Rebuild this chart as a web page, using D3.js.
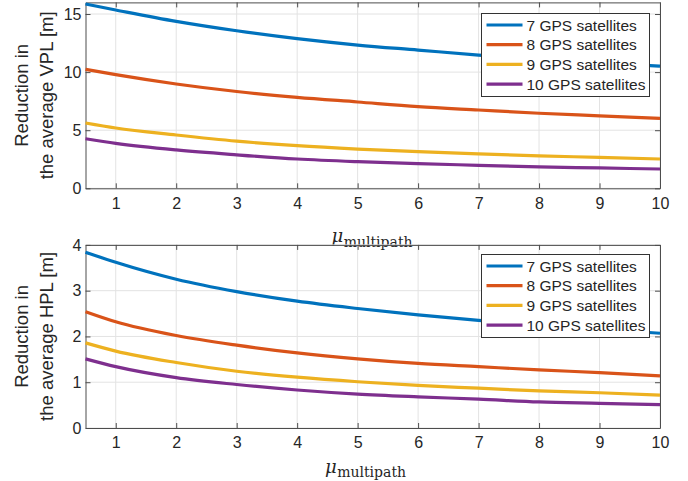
<!DOCTYPE html>
<html>
<head>
<meta charset="utf-8">
<script src="https://cdn.jsdelivr.net/npm/d3@7/dist/d3.min.js"></script>
<style>
  html, body { margin: 0; padding: 0; background: #fff; }
  svg { display: block; }
</style>
</head>
<body>
<svg id="chart" width="688" height="481"></svg>
<script>
// Multipath parameter (x axis, shared by both panels)
const mu = [0.5, 1, 2, 3, 4, 5, 6, 7, 8, 9, 10];
const seriesNames = ["7 GPS satellites", "8 GPS satellites", "9 GPS satellites", "10 GPS satellites"];
const xTicks = [1, 2, 3, 4, 5, 6, 7, 8, 9, 10];

// Reduction in the average VPL [m]
const vpl7  = [15.86, 15.35, 14.37, 13.56, 12.88, 12.33, 11.90, 11.47, 11.12, 10.80, 10.52];
const vpl8  = [10.24, 9.78, 8.98, 8.33, 7.83, 7.43, 7.03, 6.74, 6.46, 6.24, 6.02];
const vpl9  = [5.62, 5.19, 4.59, 4.06, 3.67, 3.38, 3.15, 2.96, 2.79, 2.66, 2.52];
const vpl10 = [4.27, 3.87, 3.30, 2.88, 2.52, 2.29, 2.12, 1.98, 1.84, 1.75, 1.66];
const vplTicks = [0, 5, 10, 15];

// Reduction in the average HPL [m]
const hpl7  = [3.84, 3.62, 3.25, 2.98, 2.77, 2.61, 2.47, 2.35, 2.25, 2.16, 2.07];
const hpl8  = [2.54, 2.32, 2.02, 1.81, 1.64, 1.51, 1.41, 1.34, 1.27, 1.21, 1.14];
const hpl9  = [1.86, 1.68, 1.43, 1.24, 1.11, 1.01, 0.93, 0.87, 0.81, 0.77, 0.72];
const hpl10 = [1.51, 1.34, 1.10, 0.95, 0.83, 0.74, 0.68, 0.63, 0.57, 0.54, 0.51];
const hplTicks = [0, 1, 2, 3, 4];

const colors = ["#0072BD", "#D95319", "#EDB120", "#7E2F8E"];
const textColor = "#262626";
const axisColor = "#4d4d4d";
const gridColor = "#e3e3e3";
const sansFont = "'Liberation Sans', Arial, Helvetica, sans-serif";
const serifFont = "'DejaVu Serif', 'Liberation Serif', serif";

const svg = d3.select("#chart");

const panels = [
  {
    series: [vpl7, vpl8, vpl9, vpl10], yMax: 16, yTicks: vplTicks,
    top: 2.4, bottom: 188.3, ylabel: ["Reduction in", "the average VPL [m]"],
    xlabelX: 331.5, xlabelY: 242, legendTop: 13.5
  },
  {
    series: [hpl7, hpl8, hpl9, hpl10], yMax: 4, yTicks: hplTicks,
    top: 244.9, bottom: 428, ylabel: ["Reduction in", "the average HPL [m]"],
    xlabelX: 325, xlabelY: 472.5, legendTop: 254.5
  }
];

const left = 85.5, right = 660;
const x = d3.scaleLinear().domain([0.5, 10]).range([left, right]);
const fmt = d3.format("d");

panels.forEach(p => {
  const y = d3.scaleLinear().domain([0, p.yMax]).range([p.bottom, p.top]);
  const g = svg.append("g");

  // grid lines
  g.append("g").selectAll("line").data(xTicks).join("line")
    .attr("x1", d => x(d)).attr("x2", d => x(d))
    .attr("y1", p.top).attr("y2", p.bottom)
    .attr("stroke", gridColor).attr("stroke-width", 1);
  g.append("g").selectAll("line").data(p.yTicks).join("line")
    .attr("x1", left).attr("x2", right)
    .attr("y1", d => y(d)).attr("y2", d => y(d))
    .attr("stroke", gridColor).attr("stroke-width", 1);

  // axes: ticks pointing inward on all four sides
  const tl = 5;
  const xb = g.append("g").attr("transform", `translate(0,${p.bottom})`)
    .call(d3.axisBottom(x).tickValues(xTicks).tickFormat(fmt).tickSizeInner(-tl).tickSizeOuter(0).tickPadding(9));
  const xt = g.append("g").attr("transform", `translate(0,${p.top})`)
    .call(d3.axisTop(x).tickValues(xTicks).tickSizeInner(-tl).tickSizeOuter(0).tickFormat(""));
  const yl = g.append("g").attr("transform", `translate(${left},0)`)
    .call(d3.axisLeft(y).tickValues(p.yTicks).tickFormat(fmt).tickSizeInner(-tl).tickSizeOuter(0).tickPadding(4));
  const yr = g.append("g").attr("transform", `translate(${right},0)`)
    .call(d3.axisRight(y).tickValues(p.yTicks).tickSizeInner(-tl).tickSizeOuter(0).tickFormat(""));
  [xb, xt, yl, yr].forEach(a => {
    a.select(".domain").attr("stroke", axisColor).attr("stroke-width", 1);
    a.selectAll(".tick line").attr("stroke", axisColor).attr("stroke-width", 1);
    a.selectAll(".tick text").attr("fill", textColor)
      .style("font-family", sansFont).style("font-size", "16px");
  });

  // curves
  const line = d3.line().x((d, i) => x(mu[i])).y(d => y(d)).curve(d3.curveMonotoneX);
  p.series.forEach((s, k) => {
    g.append("path").datum(s).attr("d", line)
      .attr("fill", "none").attr("stroke", colors[k]).attr("stroke-width", 3.2)
      .attr("stroke-linejoin", "round");
  });

  // y label (two lines, rotated)
  const cy = (p.top + p.bottom) / 2;
  const yLab = g.append("text")
    .attr("transform", `translate(0,${cy}) rotate(-90)`)
    .attr("text-anchor", "middle").attr("fill", textColor)
    .style("font-family", sansFont).style("font-size", "18.5px");
  yLab.append("tspan").attr("x", 0).attr("y", 28).text(p.ylabel[0]);
  yLab.append("tspan").attr("x", 0).attr("y", 53).text(p.ylabel[1]);

  // x label: italic mu with roman subscript
  const xLab = g.append("text").attr("fill", textColor)
    .attr("x", p.xlabelX).attr("y", p.xlabelY)
    .style("font-family", serifFont);
  xLab.append("tspan").style("font-size", "18px").style("font-style", "italic").text("μ");
  xLab.append("tspan").attr("dy", 4.5).attr("dx", 0.5).style("font-size", "14px").text("multipath");

  // legend
  const lx = 481.5, lw = 168, lh = 83, rowH = 19.7;
  const lg = g.append("g").attr("transform", `translate(${lx},${p.legendTop})`);
  lg.append("rect").attr("width", lw).attr("height", lh)
    .attr("fill", "#fff").attr("stroke", "#333").attr("stroke-width", 1);
  seriesNames.forEach((name, k) => {
    const ry = 11.5 + k * rowH;
    lg.append("line").attr("x1", 5).attr("x2", 41).attr("y1", ry).attr("y2", ry)
      .attr("stroke", colors[k]).attr("stroke-width", 3.2);
    lg.append("text").attr("x", 45).attr("y", ry).attr("dy", "0.36em")
      .attr("fill", textColor).style("font-family", sansFont).style("font-size", "15.5px")
      .text(name);
  });
});
</script>
</body>
</html>
